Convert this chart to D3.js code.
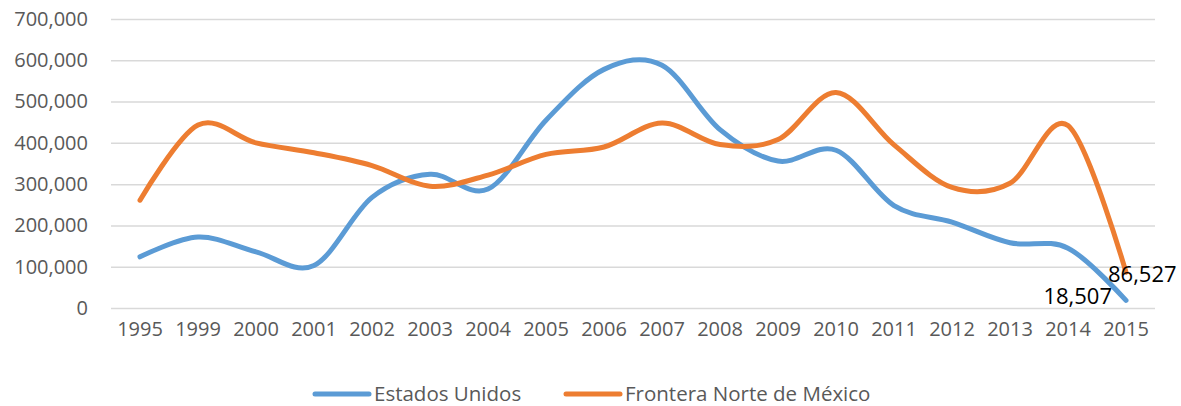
<!DOCTYPE html>
<html>
<head>
<meta charset="utf-8">
<script src="https://cdn.jsdelivr.net/npm/d3@7"></script>
<style>
  body { margin: 0; background: #fff; }
  svg { display: block; font-family: "Open Sans", sans-serif; }
</style>
</head>
<body>
<svg id="chart" width="1181" height="406"></svg>
<script>
// years on the x axis
const years = ['1995', '1999', '2000', '2001', '2002', '2003', '2004', '2005', '2006',
  '2007', '2008', '2009', '2010', '2011', '2012', '2013', '2014', '2015'];

const estadosUnidos = [124000, 172000, 136000, 103000, 268000, 324000, 288000, 455000, 578000,
  588000, 432000, 356000, 382000, 248000, 208000, 158000, 145000, 18507];

const fronteraNorte = [261000, 443000, 400000, 376000, 345000, 295000, 322000, 372000, 390000,
  448000, 396000, 408000, 522000, 395000, 292000, 302000, 442000, 86527];

const yTicks = [0, 100000, 200000, 300000, 400000, 500000, 600000, 700000];

const series = [
  { name: 'Estados Unidos', values: estadosUnidos, color: '#5b9bd5' },
  { name: 'Frontera Norte de México', values: fronteraNorte, color: '#ed7d31' }
];

const margin = { top: 19, right: 26, bottom: 98, left: 111 };
const width = 1181 - margin.left - margin.right;
const height = 406 - margin.top - margin.bottom;

const x = d3.scaleBand().domain(years).range([0, width]);
const y = d3.scaleLinear().domain([0, 700000]).range([height, 0]);
const fmt = d3.format(',');

const svg = d3.select('#chart');
const g = svg.append('g').attr('transform', `translate(${margin.left},${margin.top})`);

// gridlines + y labels
const yAxis = g.append('g')
  .call(d3.axisLeft(y).tickValues(yTicks).tickSize(-width).tickPadding(23).tickFormat(d => fmt(d)));
yAxis.select('.domain').remove();
yAxis.selectAll('.tick line').attr('stroke', '#d9d9d9').attr('stroke-width', 1.5);
yAxis.selectAll('.tick text').attr('fill', '#595959').style('font-size', '20px')
  .style('font-family', '"Open Sans", sans-serif');

// x labels
const xAxis = g.append('g')
  .attr('transform', `translate(0,${height})`)
  .call(d3.axisBottom(x).tickSize(0).tickPadding(14));
xAxis.select('.domain').remove();
xAxis.selectAll('.tick text').attr('fill', '#595959').style('font-size', '20px')
  .style('font-family', '"Open Sans", sans-serif');

const line = d3.line()
  .x((d, i) => x(years[i]) + x.bandwidth() / 2)
  .y(d => y(d))
  .curve(d3.curveCardinal);

series.forEach(s => {
  g.append('path')
    .datum(s.values)
    .attr('fill', 'none')
    .attr('stroke', s.color)
    .attr('stroke-width', 5)
    .attr('stroke-linecap', 'round')
    .attr('stroke-linejoin', 'round')
    .attr('d', line);
});

// data labels on last point
const lastX = x('2015') + x.bandwidth() / 2;
g.append('text')
  .attr('x', lastX - 14)
  .attr('y', y(estadosUnidos[17]) + 4)
  .attr('text-anchor', 'end')
  .style('font-size', '22px')
  .attr('fill', '#000')
  .text(fmt(estadosUnidos[17]));
g.append('text')
  .attr('x', lastX - 18)
  .attr('y', y(fronteraNorte[17]) + 10)
  .style('font-size', '22px')
  .attr('fill', '#000')
  .text(fmt(fronteraNorte[17]));

// legend
const legend = svg.append('g').attr('transform', 'translate(0,394)');
const legendX = [315, 566];
series.forEach((s, i) => {
  const lg = legend.append('g').attr('transform', `translate(${legendX[i]},0)`);
  lg.append('line')
    .attr('x1', 0).attr('x2', 54)
    .attr('stroke', s.color).attr('stroke-width', 5).attr('stroke-linecap', 'round');
  lg.append('text')
    .attr('x', 59).attr('y', 7)
    .attr('fill', '#595959')
    .style('font-size', '20.5px')
    .text(s.name);
});
</script>
</body>
</html>
